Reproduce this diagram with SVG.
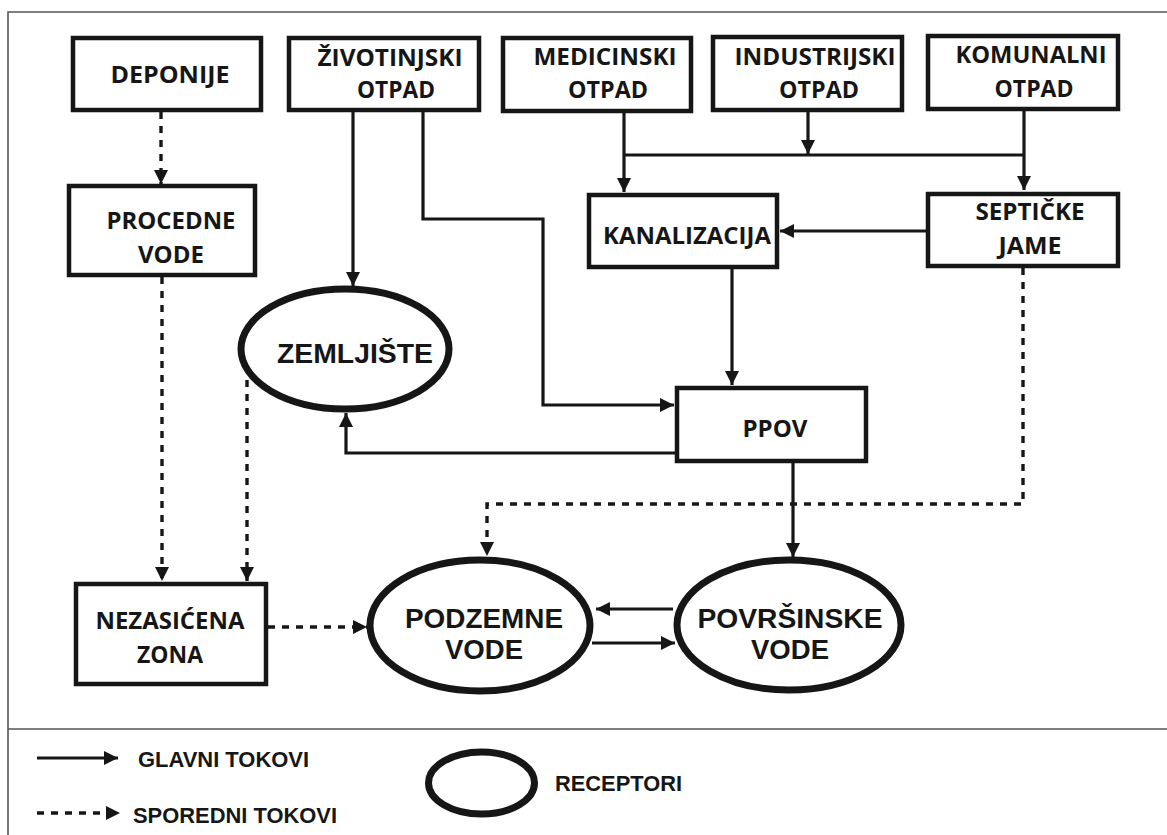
<svg xmlns="http://www.w3.org/2000/svg" width="1167" height="835" viewBox="0 0 1167 835">
<style>
.box{fill:#fff;stroke:#161616;stroke-width:4.5}
.ell{fill:#fff;stroke:#161616;stroke-width:7}
.bt{font-family:"Open Sans","DejaVu Sans",sans-serif;font-weight:700;font-size:24px;fill:#161616;text-anchor:middle}
.et{font-family:"Liberation Sans",Arial,sans-serif;font-weight:700;font-size:27px;fill:#161616;text-anchor:middle}
.lt{font-family:"Liberation Sans",Arial,sans-serif;font-weight:700;font-size:22px;fill:#161616}
.c{fill:none;stroke:#161616;stroke-width:3.2}
.d{fill:none;stroke:#161616;stroke-width:3.4;stroke-dasharray:7 7}
.frame{fill:none;stroke:#555;stroke-width:1.6}
</style>
<defs>
<marker id="ah" markerUnits="userSpaceOnUse" markerWidth="14" markerHeight="14" viewBox="0 0 12 12" refX="12" refY="6" orient="auto">
<path d="M0,0 L12,6 L0,12 z" fill="#161616"/>
</marker>
</defs>
<g id="frame">
<path class="frame" d="M1167,12 H8 V835"/>
<path class="frame" d="M8,729 H1167"/>
</g>
<g id="connectors">
<path class="d" d="M161,112 V184" marker-end="url(#ah)"/>
<path class="d" d="M162,277 V581" marker-end="url(#ah)"/>
<path class="d" d="M247,380 V581" marker-end="url(#ah)"/>
<path class="d" d="M268,627 H367" marker-end="url(#ah)"/>
<path class="d" d="M1023,268 V504 H487 V556" marker-end="url(#ah)"/>
<path class="c" d="M353,112 V286" marker-end="url(#ah)"/>
<path class="c" d="M423,112 V219 H543 V405 H674" marker-end="url(#ah)"/>
<path class="c" d="M624,113 V192" marker-end="url(#ah)"/>
<path class="c" d="M808,112 V154" marker-end="url(#ah)"/>
<path class="c" d="M1024,111 V190" marker-end="url(#ah)"/>
<path class="c" d="M624,155 H1024"/>
<path class="c" d="M926,231 H780" marker-end="url(#ah)"/>
<path class="c" d="M732,269 V385" marker-end="url(#ah)"/>
<path class="c" d="M675,453 H346 V413" marker-end="url(#ah)"/>
<path class="c" d="M793,463 V557" marker-end="url(#ah)"/>
<path class="c" d="M673,609 H596" marker-end="url(#ah)"/>
<path class="c" d="M592,643 H675" marker-end="url(#ah)"/>
</g>
<g id="deponije">
<rect class="box" x="73" y="38" width="188" height="72"/>
<text class="bt" x="170" y="83" textLength="119" lengthAdjust="spacingAndGlyphs">DEPONIJE</text>
</g>
<g id="zivotinjski">
<rect class="box" x="289" y="38" width="190" height="72"/>
<text class="bt" x="390" y="66" textLength="145" lengthAdjust="spacingAndGlyphs">ŽIVOTINJSKI</text>
<text class="bt" x="396" y="98" textLength="78" lengthAdjust="spacingAndGlyphs">OTPAD</text>
</g>
<g id="medicinski">
<rect class="box" x="503" y="38" width="188" height="73"/>
<text class="bt" x="605" y="65" textLength="143" lengthAdjust="spacingAndGlyphs">MEDICINSKI</text>
<text class="bt" x="608" y="98" textLength="80" lengthAdjust="spacingAndGlyphs">OTPAD</text>
</g>
<g id="industrijski">
<rect class="box" x="713" y="37" width="189" height="73"/>
<text class="bt" x="815" y="65" textLength="161" lengthAdjust="spacingAndGlyphs">INDUSTRIJSKI</text>
<text class="bt" x="819" y="98" textLength="80" lengthAdjust="spacingAndGlyphs">OTPAD</text>
</g>
<g id="komunalni">
<rect class="box" x="928" y="36" width="190" height="73"/>
<text class="bt" x="1031" y="63" textLength="151" lengthAdjust="spacingAndGlyphs">KOMUNALNI</text>
<text class="bt" x="1034" y="97" textLength="79" lengthAdjust="spacingAndGlyphs">OTPAD</text>
</g>
<g id="procedne">
<rect class="box" x="69" y="186" width="186" height="89"/>
<text class="bt" x="171" y="229" textLength="129" lengthAdjust="spacingAndGlyphs">PROCEDNE</text>
<text class="bt" x="171" y="263" textLength="66" lengthAdjust="spacingAndGlyphs">VODE</text>
</g>
<g id="kanalizacija">
<rect class="box" x="589" y="195" width="188" height="72"/>
<text class="bt" x="687" y="244" textLength="168" lengthAdjust="spacingAndGlyphs">KANALIZACIJA</text>
</g>
<g id="septicke">
<rect class="box" x="928" y="194" width="190" height="72"/>
<text class="bt" x="1030" y="220" textLength="109" lengthAdjust="spacingAndGlyphs">SEPTIČKE</text>
<text class="bt" x="1030" y="254" textLength="63" lengthAdjust="spacingAndGlyphs">JAME</text>
</g>
<g id="ppov">
<rect class="box" x="677" y="388" width="189" height="73"/>
<text class="bt" x="775" y="437" textLength="65" lengthAdjust="spacingAndGlyphs">PPOV</text>
</g>
<g id="nezasicena">
<rect class="box" x="76" y="584" width="190" height="100"/>
<text class="bt" x="170" y="629" textLength="149" lengthAdjust="spacingAndGlyphs">NEZASIĆENA</text>
<text class="bt" x="170" y="663" textLength="66" lengthAdjust="spacingAndGlyphs">ZONA</text>
</g>
<g id="zemljiste">
<ellipse class="ell" cx="345" cy="349" rx="104" ry="60"/>
<text class="et" x="355" y="363" textLength="156" lengthAdjust="spacingAndGlyphs">ZEMLJIŠTE</text>
</g>
<g id="podzemne">
<ellipse class="ell" cx="480" cy="625.5" rx="110" ry="65.5"/>
<text class="et" x="484" y="628" textLength="158" lengthAdjust="spacingAndGlyphs">PODZEMNE</text>
<text class="et" x="484" y="659" textLength="78" lengthAdjust="spacingAndGlyphs">VODE</text>
</g>
<g id="povrsinske">
<ellipse class="ell" cx="789" cy="625" rx="112" ry="65"/>
<text class="et" x="790" y="628" textLength="185" lengthAdjust="spacingAndGlyphs">POVRŠINSKE</text>
<text class="et" x="790" y="659" textLength="78" lengthAdjust="spacingAndGlyphs">VODE</text>
</g>
<g id="legend">
<path class="c" d="M37,758 H118" marker-end="url(#ah)"/>
<text class="lt" x="138" y="767" textLength="171" lengthAdjust="spacingAndGlyphs">GLAVNI TOKOVI</text>
<path class="d" d="M37,813 H120" marker-end="url(#ah)"/>
<text class="lt" x="133" y="823" textLength="204" lengthAdjust="spacingAndGlyphs">SPOREDNI TOKOVI</text>
<ellipse class="ell" cx="481.5" cy="783" rx="53" ry="31"/>
<text class="lt" x="555" y="791" textLength="127" lengthAdjust="spacingAndGlyphs">RECEPTORI</text>
</g>
</svg>
